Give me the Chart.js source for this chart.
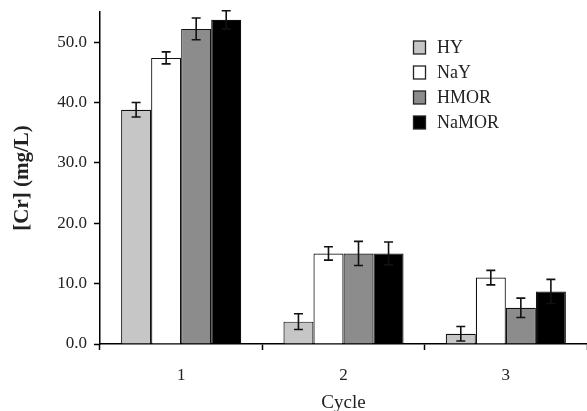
<!DOCTYPE html>
<html>
<head>
<meta charset="utf-8">
<script src="https://cdn.jsdelivr.net/npm/chart.js@4.4.0/dist/chart.umd.min.js"></script>
<style>
  html, body { margin: 0; padding: 0; background: #fff; }
  #wrap { width: 587px; height: 411px; }
</style>
</head>
<body>
<div id="wrap"><canvas id="crChart" width="587" height="411"></canvas></div>
<script>
const cycles = ['1', '2', '3'];
const seriesNames = ['HY', 'NaY', 'HMOR', 'NaMOR'];
const hyValues = [38.8, 3.7, 1.7];
const nayValues = [47.4, 15.0, 11.0];
const hmorValues = [52.2, 15.0, 6.0];
const namorValues = [53.7, 15.0, 8.7];
const hyErrors = [1.2, 1.3, 1.2];
const nayErrors = [1.0, 1.1, 1.2];
const hmorErrors = [1.8, 2.0, 1.6];
const namorErrors = [1.5, 1.9, 2.0];
const yTicks = [0, 10, 20, 30, 40, 50];

const fills = ['#c6c6c6', '#ffffff', '#8c8c8c', '#000000'];
const allValues = [hyValues, nayValues, hmorValues, namorValues];
const allErrors = [hyErrors, nayErrors, hmorErrors, namorErrors];

Chart.defaults.font.family = '"Liberation Serif", "Times New Roman", serif';
Chart.defaults.color = '#222';

// error bars, drawn through the y scale
const errorBars = {
    id: 'errorBars',
    afterDatasetsDraw(chart) {
        const ctx = chart.ctx;
        const y = chart.scales.y;
        ctx.save();
        ctx.strokeStyle = '#111';
        ctx.lineWidth = 1.6;
        chart.data.datasets.forEach((ds, i) => {
            const meta = chart.getDatasetMeta(i);
            meta.data.forEach((bar, j) => {
                const v = ds.data[j];
                const e = ds.errors[j];
                const top = y.getPixelForValue(v + e);
                const bot = y.getPixelForValue(v - e);
                ctx.beginPath();
                ctx.moveTo(bar.x, top); ctx.lineTo(bar.x, bot);
                ctx.moveTo(bar.x - 4.5, top); ctx.lineTo(bar.x + 4.5, top);
                ctx.moveTo(bar.x - 4.5, bot); ctx.lineTo(bar.x + 4.5, bot);
                ctx.stroke();
            });
        });
        ctx.restore();
    }
};

// legend inside the plot
const boxLegend = {
    id: 'boxLegend',
    afterDraw(chart) {
        const ctx = chart.ctx;
        ctx.save();
        ctx.font = '18px "Liberation Serif", serif';
        ctx.textBaseline = 'middle';
        chart.data.datasets.forEach((ds, i) => {
            const yy = 47.5 + i * 25;
            ctx.fillStyle = ds.backgroundColor;
            ctx.fillRect(413.5, yy - 6.5, 12, 13);
            ctx.strokeStyle = '#222';
            ctx.lineWidth = 1.3;
            ctx.strokeRect(413.5, yy - 6.5, 12, 13);
            ctx.fillStyle = '#222';
            ctx.fillText(ds.label, 437, yy + 1);
        });
        ctx.restore();
    }
};

new Chart(document.getElementById('crChart'), {
    type: 'bar',
    data: {
        labels: cycles,
        datasets: seriesNames.map((name, i) => ({
            label: name,
            data: allValues[i],
            errors: allErrors[i],
            backgroundColor: fills[i],
            borderColor: '#111',
            borderWidth: 1.2,
            categoryPercentage: 0.74,
            barPercentage: 1.0
        }))
    },
    options: {
        responsive: false,
        animation: false,
        devicePixelRatio: 1,
        layout: { padding: { top: 12, right: 0, left: 0, bottom: 0 } },
        plugins: { legend: { display: false }, tooltip: { enabled: false } },
        scales: {
            x: {
                offset: true,
                border: { color: '#000', width: 1.5 },
                grid: { offset: true, drawOnChartArea: false, tickLength: 6, tickColor: '#000', tickWidth: 1.5 },
                ticks: { font: { size: 17 }, padding: 15 },
                title: { display: true, text: 'Cycle', font: { size: 19 }, padding: { top: 0, bottom: -3 } },
                afterFit: s => { s.height = 67; }
            },
            y: {
                min: 0,
                max: 55,
                afterBuildTicks: s => { s.ticks = yTicks.map(v => ({ value: v })); },
                border: { color: '#000', width: 1.5 },
                grid: { drawOnChartArea: false, tickLength: 6, tickColor: '#000', tickWidth: 1.5 },
                ticks: { callback: v => v.toFixed(1), font: { size: 17 }, padding: 7 },
                title: { display: true, text: '[Cr] (mg/L)', font: { size: 21, weight: 'bold' }, padding: { top: 10, bottom: 0 } },
                afterFit: s => { s.width = 100; s.paddingTop = 0; s.paddingBottom = 0; }
            }
        }
    },
    plugins: [errorBars, boxLegend]
});
</script>
</body>
</html>
